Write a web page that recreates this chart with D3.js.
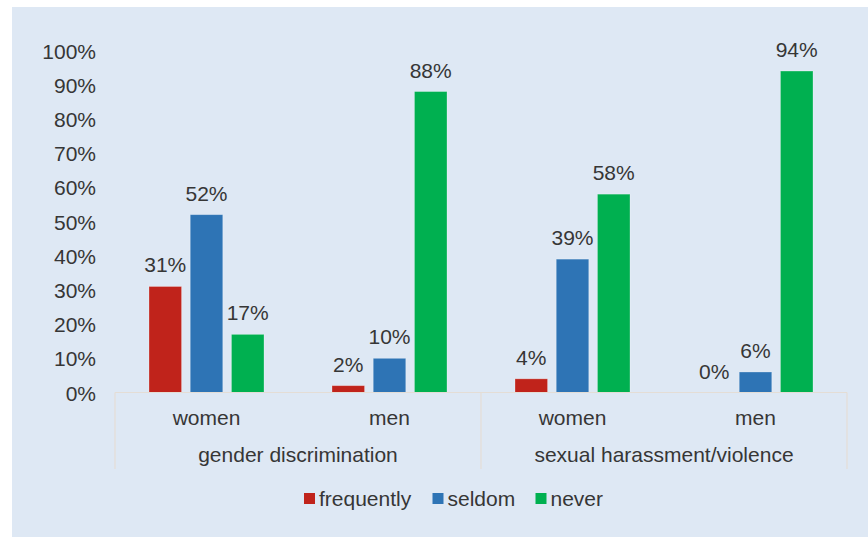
<!DOCTYPE html>
<html>
<head>
<meta charset="utf-8">
<script src="https://cdn.jsdelivr.net/npm/d3@7"></script>
<style>
  body { margin: 0; background: #fff; }
  text { font-family: "Liberation Sans", Arial, sans-serif; fill: #363636; }
</style>
</head>
<body>
<div id="chart-area"></div>
<script>
// Data
const groups = ["gender discrimination", "sexual harassment/violence"]
const genders = ["women", "men"]
const series = ["frequently", "seldom", "never"]
const frequently = [31, 2, 4, 0]
const seldom = [52, 10, 39, 6]
const never = [17, 88, 58, 94]
const yTicks = [0, 10, 20, 30, 40, 50, 60, 70, 80, 90, 100]

const colors = { frequently: "#c0231b", seldom: "#2e74b5", never: "#00b050" }

// rows: one per category on the axis
const rows = []
groups.forEach((g, gi) => {
	genders.forEach((s, si) => {
		const i = gi * 2 + si
		rows.push({ key: g + "|" + s, group: g, gender: s,
			frequently: frequently[i], seldom: seldom[i], never: never[i] })
	})
})

const W = 868, H = 537
const svg = d3.select("#chart-area").append("svg")
	.attr("width", W)
	.attr("height", H)

// panel background
svg.append("rect")
	.attr("x", 12).attr("y", 7)
	.attr("width", W - 12).attr("height", H - 7)
	.attr("fill", "#dee8f4")

const PLOT = { LEFT: 115, RIGHT: 847, TOP: 50.5, BOTTOM: 392.5 }

const y = d3.scaleLinear()
	.domain([0, 100])
	.range([PLOT.BOTTOM, PLOT.TOP])

const x0 = d3.scaleBand()
	.domain(rows.map(d => d.key))
	.range([PLOT.LEFT, PLOT.RIGHT])

const x1 = d3.scaleBand()
	.domain(series)
	.range([34, x0.bandwidth() - 34])
	.paddingInner(0.21)

// y axis labels
const yAxis = d3.axisLeft(y)
	.tickValues(yTicks)
	.tickSize(0)
	.tickPadding(0)
	.tickFormat(d => d + "%")
svg.append("g")
	.attr("transform", `translate(96, 0)`)
	.call(yAxis)
	.call(g => g.select(".domain").remove())
	.selectAll("text")
	.attr("font-size", "21px")
	.attr("dy", "0.36em")
	.style("font-family", "'Liberation Sans', Arial, sans-serif")
	.attr("fill", "#363636")

// bars
const cat = svg.selectAll("g.cat")
	.data(rows)
	.enter().append("g")
	.attr("class", "cat")
	.attr("transform", d => `translate(${x0(d.key)}, 0)`)

cat.selectAll("rect")
	.data(d => series.map(s => ({ s, v: d[s] })))
	.enter().append("rect")
	.attr("x", d => x1(d.s))
	.attr("width", x1.bandwidth())
	.attr("y", d => y(d.v))
	.attr("height", d => y(0) - y(d.v))
	.attr("fill", d => colors[d.s])
	.attr("stroke", "rgba(255,255,255,0.35)")
	.attr("stroke-width", 0.8)

cat.selectAll("text.val")
	.data(d => series.map(s => ({ s, v: d[s] })))
	.enter().append("text")
	.attr("class", "val")
	.attr("x", d => x1(d.s) + x1.bandwidth() / 2)
	.attr("y", d => y(d.v) - 14)
	.attr("text-anchor", "middle")
	.attr("font-size", "21px")
	.text(d => d.v + "%")

// category axis line and separators
const axisColor = "#e4ddd5"
svg.append("line")
	.attr("x1", PLOT.LEFT).attr("x2", PLOT.RIGHT)
	.attr("y1", y(0)).attr("y2", y(0))
	.attr("stroke", axisColor).attr("stroke-width", 1.2)

const sepX = [PLOT.LEFT, x0(rows[2].key), PLOT.RIGHT]
svg.selectAll("line.sep")
	.data(sepX)
	.enter().append("line")
	.attr("class", "sep")
	.attr("x1", d => d).attr("x2", d => d)
	.attr("y1", y(0)).attr("y2", 469)
	.attr("stroke", axisColor).attr("stroke-width", 1.2)

// gender labels
svg.selectAll("text.gender")
	.data(rows)
	.enter().append("text")
	.attr("class", "gender")
	.attr("x", d => x0(d.key) + x0.bandwidth() / 2)
	.attr("y", 425)
	.attr("text-anchor", "middle")
	.attr("font-size", "21px")
	.text(d => d.gender)

// group labels
svg.selectAll("text.group")
	.data(groups)
	.enter().append("text")
	.attr("class", "group")
	.attr("x", (d, i) => x0(rows[i * 2].key) + x0.bandwidth())
	.attr("y", 462)
	.attr("text-anchor", "middle")
	.attr("font-size", "21px")
	.text(d => d)

// legend
const legendX = [304, 432.5, 535.5]
const legend = svg.append("g")
series.forEach((s, i) => {
	const row = legend.append("g")
		.attr("transform", `translate(${legendX[i]}, 493)`)
	row.append("rect")
		.attr("width", 11).attr("height", 11)
		.attr("fill", colors[s])
	row.append("text")
		.attr("x", 15)
		.attr("y", 13)
		.attr("font-size", "21px")
		.text(s)
})
</script>
</body>
</html>
